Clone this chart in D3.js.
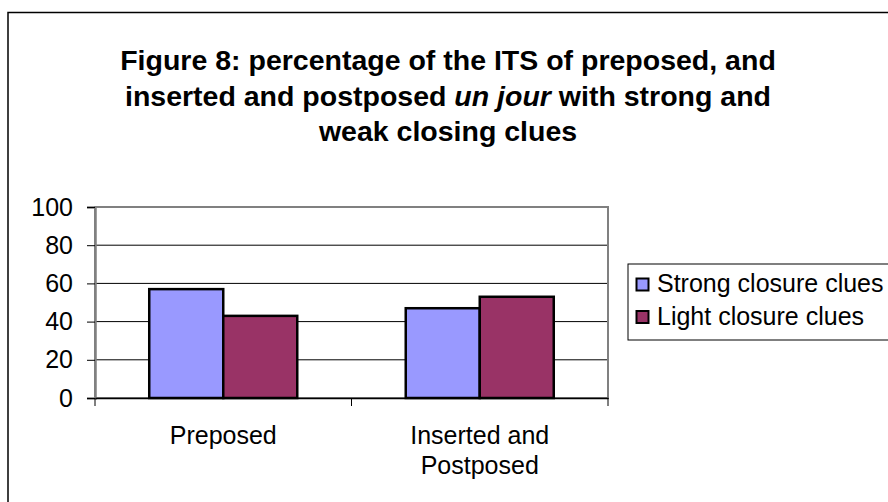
<!DOCTYPE html>
<html>
<head>
<meta charset="utf-8">
<script src="https://cdn.jsdelivr.net/npm/d3@7"></script>
<style>
  html, body { margin: 0; padding: 0; background: #fff; }
  svg { display: block; font-family: "Liberation Sans", Arial, sans-serif; }
</style>
</head>
<body>
<svg id="chart" width="888" height="502"></svg>
<script>
// ---- data ----
const categories = ["Preposed", "Inserted and Postposed"];
const categoryLines = [["Preposed"], ["Inserted and", "Postposed"]];
const seriesNames = ["Strong closure clues", "Light closure clues"];
const strongValues = [57, 47];
const lightValues = [43, 53];
const seriesColors = ["#9999FF", "#993366"];
const yTicks = [0, 20, 40, 60, 80, 100];
const titleLines = [
  [{t: "Figure 8: percentage of the ITS of preposed, and", i: false}],
  [{t: "inserted and postposed ", i: false}, {t: "un jour", i: true}, {t: " with strong and", i: false}],
  [{t: "weak closing clues", i: false}]
];

// ---- layout ----
const svg = d3.select("#chart");
const plot = {left: 95, right: 608, top: 207, bottom: 398};
const FS = 25;

// outer chart border
svg.append("rect").attr("x", 8).attr("y", 12.5).attr("width", 900).attr("height", 520)
  .attr("fill", "#fff").attr("stroke", "#000").attr("stroke-width", 1.5);

// title
titleLines.forEach((parts, li) => {
  const t = svg.append("text")
    .attr("text-anchor", "middle")
    .attr("font-size", 28.5).attr("font-weight", "bold")
    .attr("x", 448).attr("y", 70 + li * 35.5);
  parts.forEach(p => t.append("tspan").attr("font-style", p.i ? "italic" : "normal").text(p.t));
});

// scales
const x = d3.scaleBand().domain(categories).range([plot.left, plot.right]).paddingInner(0).paddingOuter(0);
const xs = d3.scaleBand().domain(seriesNames).range([0, x.bandwidth()]).paddingInner(0).paddingOuter(0.733);
const y = d3.scaleLinear().domain([0, 100]).range([plot.bottom, plot.top]);

// gridlines
svg.append("g").selectAll("line").data(yTicks.filter(v => v > 0 && v < 100)).join("line")
  .attr("x1", plot.left).attr("x2", plot.right)
  .attr("y1", d => y(d)).attr("y2", d => y(d))
  .attr("stroke", "#000").attr("stroke-width", 1);

// plot frame
svg.append("rect").attr("x", plot.left).attr("y", plot.top)
  .attr("width", plot.right - plot.left).attr("height", plot.bottom - plot.top)
  .attr("fill", "none").attr("stroke", "#808080").attr("stroke-width", 2);

// bars
const rows = categories.map((c, i) => ({c, vals: [strongValues[i], lightValues[i]]}));
const groups = svg.append("g").selectAll("g").data(rows).join("g")
  .attr("transform", d => `translate(${x(d.c)},0)`);
groups.selectAll("rect").data(d => d.vals.map((v, k) => ({s: seriesNames[k], v, k}))).join("rect")
  .attr("x", d => xs(d.s)).attr("width", xs.bandwidth())
  .attr("y", d => y(d.v)).attr("height", d => y(0) - y(d.v))
  .attr("fill", d => seriesColors[d.k])
  .attr("stroke", "#000").attr("stroke-width", 2.5);

// y axis
const yAxis = svg.append("g").attr("transform", `translate(${plot.left},0)`)
  .call(d3.axisLeft(y).tickValues(yTicks).tickSize(8).tickPadding(14));
yAxis.select(".domain").attr("stroke", "#808080").attr("stroke-width", 2.5);
yAxis.selectAll(".tick line").attr("stroke", "#000");
yAxis.selectAll(".tick text").attr("font-size", FS).attr("fill", "#000")
  .attr("font-family", "Liberation Sans, Arial, sans-serif");

// x axis
const xAxis = svg.append("g").attr("transform", `translate(0,${plot.bottom})`)
  .call(d3.axisBottom(x).tickSize(0).tickFormat(""));
xAxis.select(".domain").attr("stroke", "#000").attr("stroke-width", 1.5);
const boundaries = [plot.left, ...categories.map(c => x(c) + x.bandwidth())];
xAxis.selectAll("line.sep").data(boundaries).join("line").attr("class", "sep")
  .attr("x1", d => d).attr("x2", d => d).attr("y1", 0).attr("y2", 8)
  .attr("stroke", "#000").attr("stroke-width", 1);

// category labels
categories.forEach((c, i) => {
  categoryLines[i].forEach((ln, j) => {
    svg.append("text").attr("text-anchor", "middle")
      .attr("font-size", FS)
      .attr("x", x(c) + x.bandwidth() / 2).attr("y", 444 + j * 30)
      .text(ln);
  });
});

// legend
const lg = svg.append("g");
lg.append("rect").attr("x", 628).attr("y", 264).attr("width", 300).attr("height", 76)
  .attr("fill", "#fff").attr("stroke", "#000").attr("stroke-width", 1);
seriesNames.forEach((s, k) => {
  lg.append("rect").attr("x", 636.5).attr("y", 278.5 + k * 32.5).attr("width", 12).attr("height", 12)
    .attr("fill", seriesColors[k]).attr("stroke", "#000").attr("stroke-width", 2);
  lg.append("text").attr("font-size", FS)
    .attr("x", 657).attr("y", 292 + k * 32.5).text(s);
});
</script>
</body>
</html>
